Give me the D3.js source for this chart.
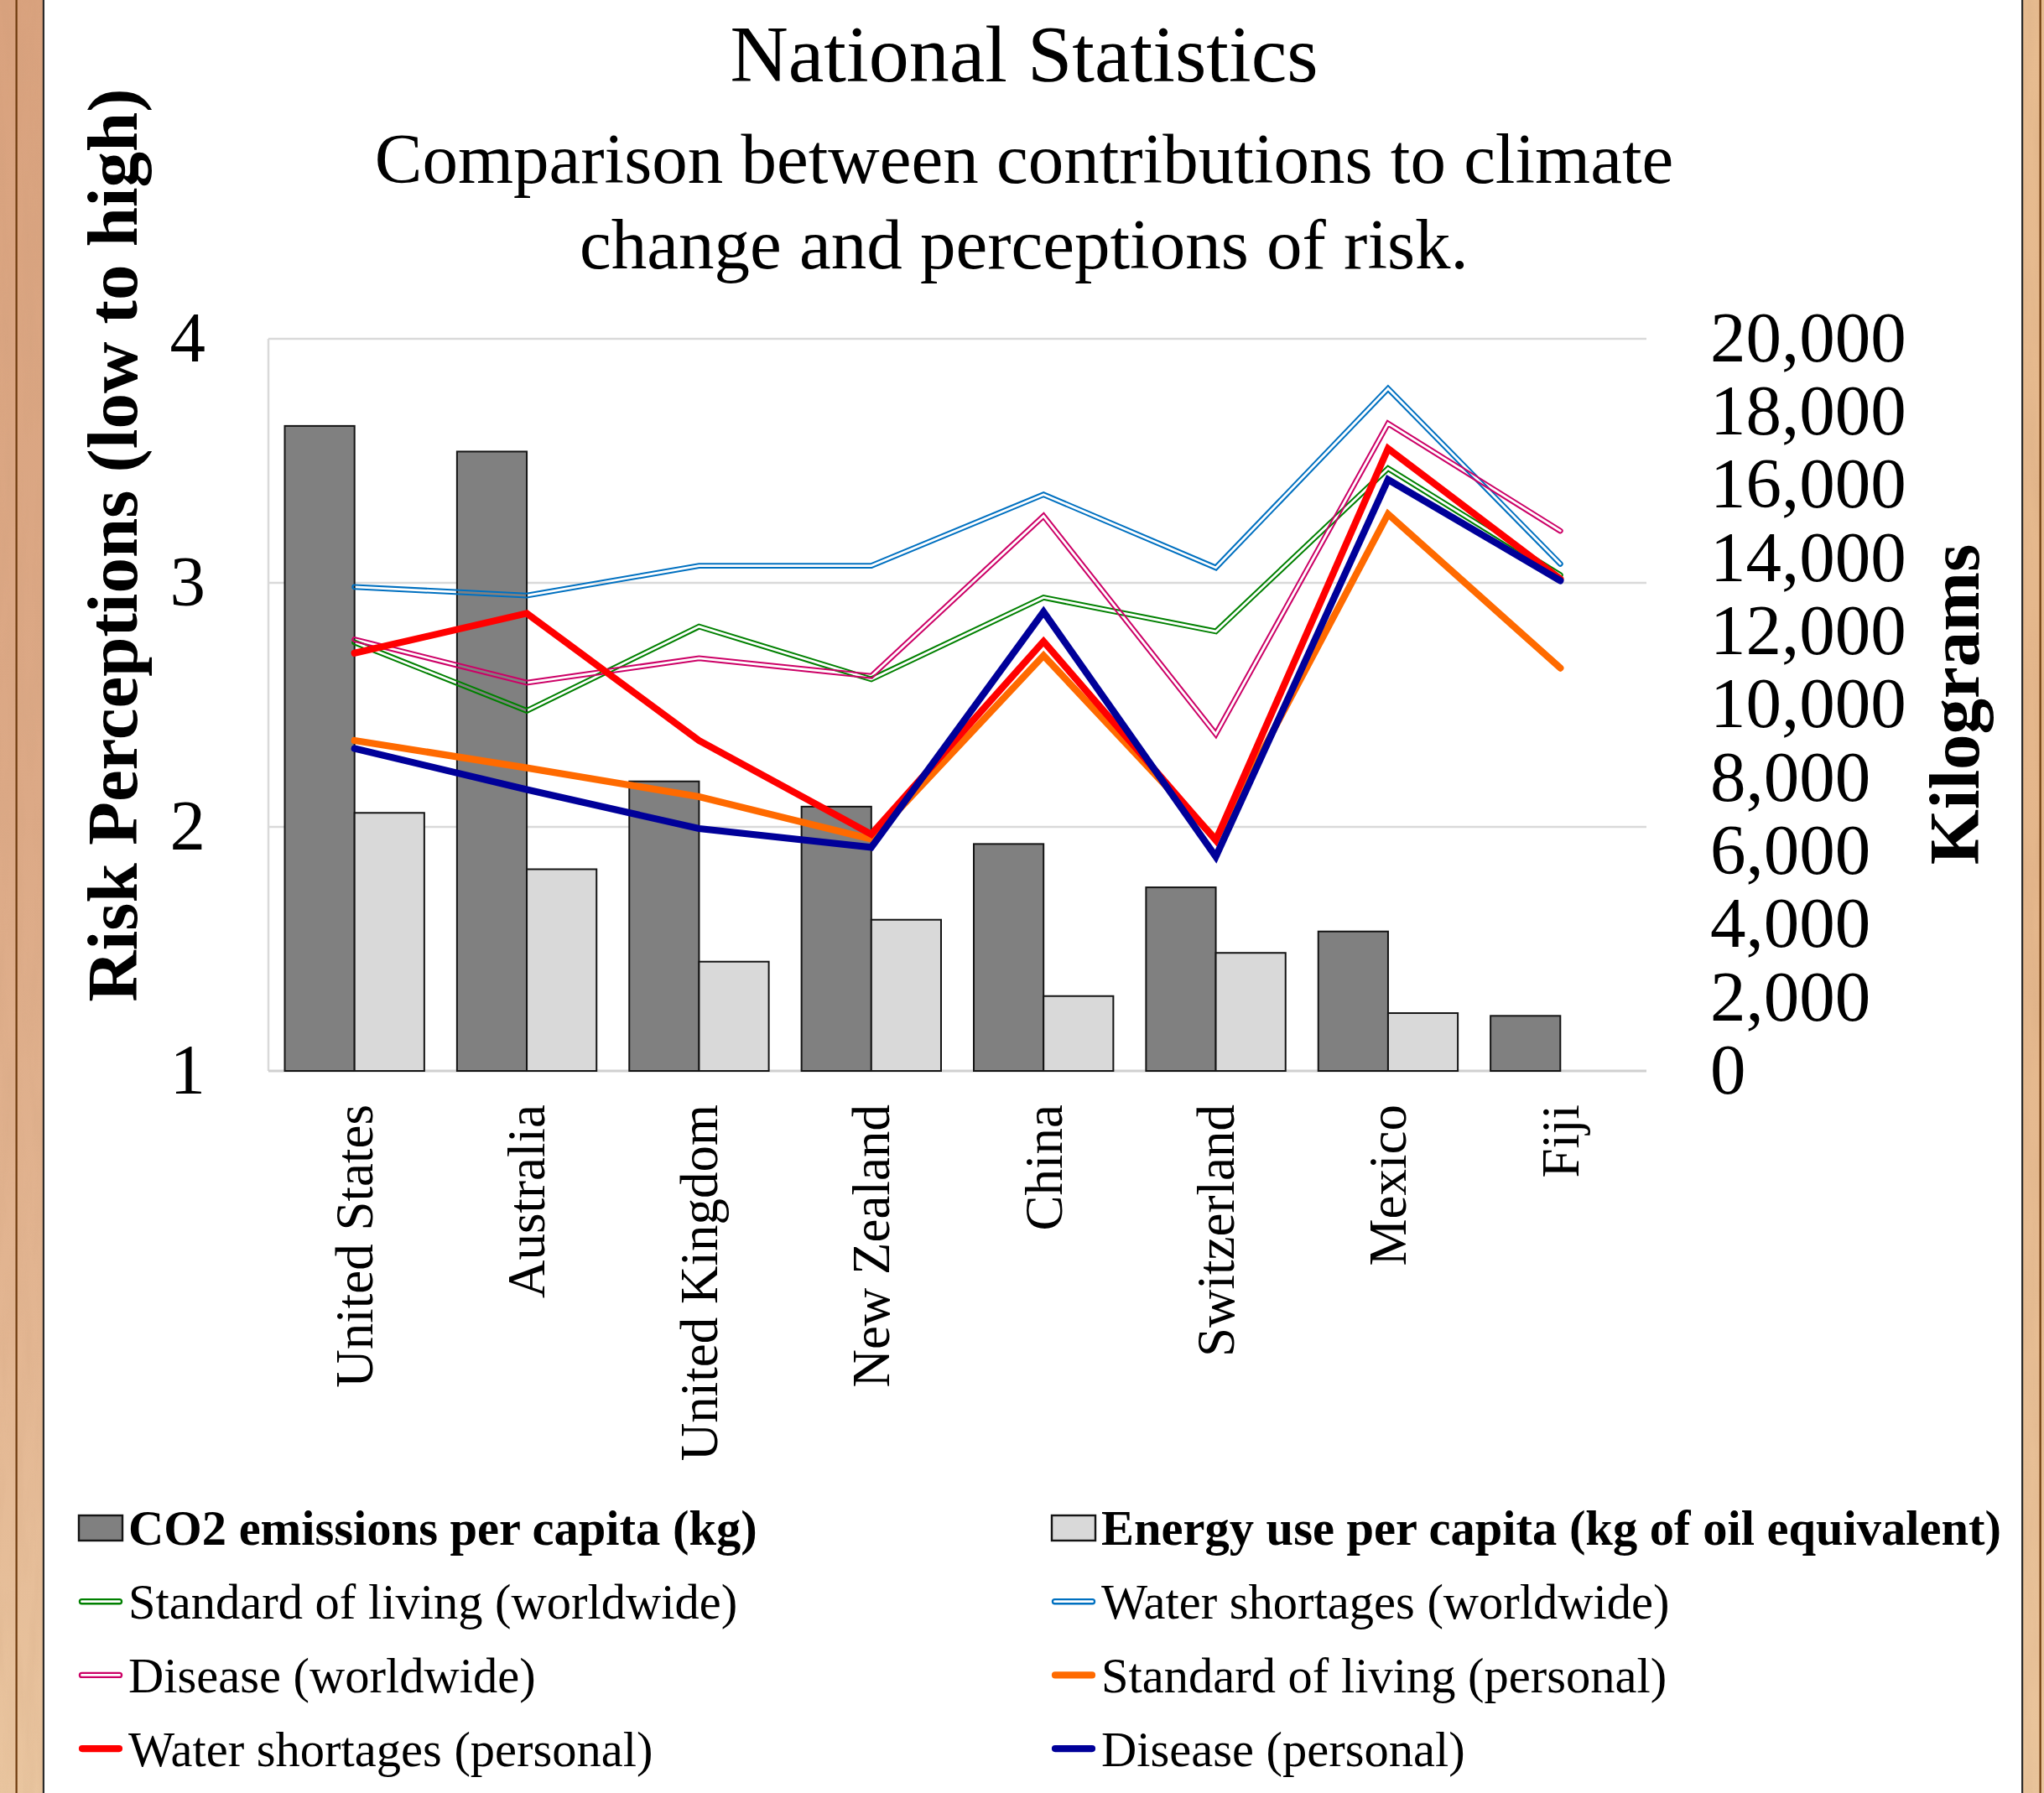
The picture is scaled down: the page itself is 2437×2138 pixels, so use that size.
<!DOCTYPE html>
<html>
<head>
<meta charset="utf-8">
<title>National Statistics</title>
<script src="https://cdn.jsdelivr.net/npm/d3@7"></script>
<style>
  html, body { margin: 0; padding: 0; background: #ffffff; }
  svg { display: block; }
</style>
</head>
<body>
<script>
// ---- Data -------------------------------------------------------------
const categories = ["United States", "Australia", "United Kingdom", "New Zealand",
                    "China", "Switzerland", "Mexico", "Fiji"];

// Bars, right axis (kilograms)
const co2PerCapita    = [17620, 16920, 7910, 7220, 6200, 5015, 3810, 1505];
const energyPerCapita = [7050, 5510, 2985, 4130, 2045, 3225, 1580, null];

// Lines, left axis (risk perception, 1 = low, 4 = high)
const stdLivingWorldwide      = [2.756, 2.476, 2.821, 2.605, 2.940, 2.801, 3.469, 3.032];
const waterShortagesWorldwide = [2.983, 2.948, 3.070, 3.070, 3.362, 3.062, 3.796, 3.078];
const diseaseWorldwide        = [2.768, 2.591, 2.691, 2.618, 3.274, 2.380, 3.653, 3.213];
const stdLivingPersonal       = [2.354, 2.242, 2.124, 1.950, 2.702, 1.950, 3.282, 2.651];
const waterShortagesPersonal  = [2.712, 2.875, 2.354, 1.970, 2.760, 1.945, 3.550, 3.016];
const diseasePersonal         = [2.321, 2.153, 1.993, 1.916, 2.881, 1.878, 3.423, 3.009];

const leftTicks  = [1, 2, 3, 4];
const rightTicks = [0, 2000, 4000, 6000, 8000, 10000, 12000, 14000, 16000, 18000, 20000];

const titleText    = "National Statistics";
const subtitleText = ["Comparison between contributions to climate",
                      "change and perceptions of risk."];
const leftAxisTitle  = "Risk Perceptions (low to high)";
const rightAxisTitle = "Kilograms";

// ---- Series definitions ----------------------------------------------
const barSeries = [
  { key: "co2",    name: "CO2 emissions per capita (kg)",                 values: co2PerCapita,    fill: "#808080" },
  { key: "energy", name: "Energy use per capita (kg of oil equivalent)",  values: energyPerCapita, fill: "#d9d9d9" }
];
const lineSeries = [
  { key: "slw", name: "Standard of living (worldwide)", values: stdLivingWorldwide,      color: "#008000", style: "double" },
  { key: "wsw", name: "Water shortages (worldwide)",    values: waterShortagesWorldwide, color: "#0070c0", style: "double" },
  { key: "dw",  name: "Disease (worldwide)",            values: diseaseWorldwide,        color: "#cc0066", style: "double" },
  { key: "slp", name: "Standard of living (personal)",  values: stdLivingPersonal,       color: "#ff6a00", style: "solid" },
  { key: "wsp", name: "Water shortages (personal)",     values: waterShortagesPersonal,  color: "#ff0000", style: "solid" },
  { key: "dp",  name: "Disease (personal)",             values: diseasePersonal,         color: "#000099", style: "solid" }
];

// ---- Layout ------------------------------------------------------------
const W = 2437, H = 2138;
const plot = { left: 320, right: 1963, top: 404, bottom: 1277 };
const FONT = "'Liberation Serif', 'Times New Roman', Times, serif";
const DOUBLE_OUTER = 6.8, DOUBLE_GAP = 2.8, SOLID_W = 8.2;

const svg = d3.select("body").append("svg")
  .attr("width", W).attr("height", H)
  .attr("viewBox", `0 0 ${W} ${H}`)
  .style("font-family", FONT);

svg.append("rect").attr("width", W).attr("height", H).attr("fill", "#ffffff");

const defs = svg.append("defs");

// ---- Wooden frame strips -----------------------------------------------
const woodLeft = defs.append("linearGradient").attr("id", "woodLeft")
  .attr("x1", 0).attr("y1", 0).attr("x2", 0).attr("y2", 1);
woodLeft.append("stop").attr("offset", "0%").attr("stop-color", "#d9a27e");
woodLeft.append("stop").attr("offset", "45%").attr("stop-color", "#dca986");
woodLeft.append("stop").attr("offset", "75%").attr("stop-color", "#e3b692");
woodLeft.append("stop").attr("offset", "100%").attr("stop-color", "#e9c59f");

const woodRight = defs.append("linearGradient").attr("id", "woodRight")
  .attr("x1", 0).attr("y1", 0).attr("x2", 0).attr("y2", 1);
woodRight.append("stop").attr("offset", "0%").attr("stop-color", "#e7bc90");
woodRight.append("stop").attr("offset", "50%").attr("stop-color", "#e4b68b");
woodRight.append("stop").attr("offset", "100%").attr("stop-color", "#eac59c");

const grain = defs.append("filter").attr("id", "grain")
  .attr("x", 0).attr("y", 0).attr("width", 1).attr("height", 1);
grain.append("feTurbulence").attr("type", "fractalNoise")
  .attr("baseFrequency", "0.07 0.008").attr("numOctaves", 3).attr("seed", 7).attr("result", "n");
grain.append("feColorMatrix").attr("in", "n").attr("type", "matrix")
  .attr("values", "0 0 0 0 0.55  0 0 0 0 0.32  0 0 0 0 0.18  0 0 0 0.8 -0.3");

function woodStrip(x0, width, gradId, brownX, edgeX) {
  const g = svg.append("g");
  g.append("rect").attr("x", x0).attr("y", 0).attr("width", width).attr("height", H)
    .attr("fill", `url(#${gradId})`);
  g.append("rect").attr("x", x0).attr("y", 0).attr("width", width).attr("height", H)
    .attr("fill", "#000").attr("filter", "url(#grain)").attr("opacity", 0.32);
  g.append("rect").attr("x", brownX).attr("y", 0).attr("width", 2.2).attr("height", H)
    .attr("fill", "#6e3b0e");
  g.append("rect").attr("x", edgeX).attr("y", 0).attr("width", 2.2).attr("height", H)
    .attr("fill", "#2b2b2b");
}
woodStrip(0, 52, "woodLeft", 18.5, 50.8);
woodStrip(2412, 25, "woodRight", 2431.5, 2410);

// ---- Scales ------------------------------------------------------------
const x = d3.scaleBand().domain(categories)
  .range([plot.left, plot.right]).paddingInner(0.19).paddingOuter(0.095);
const xSub = d3.scaleBand().domain(barSeries.map(s => s.key)).range([0, x.bandwidth()]);
const yLeft  = d3.scaleLinear().domain([1, 4]).range([plot.bottom, plot.top]);
const yRight = d3.scaleLinear().domain([0, 20000]).range([plot.bottom, plot.top]);

// ---- Gridlines & axis lines ----------------------------------------------
svg.append("g").selectAll("line").data(leftTicks.filter(t => t !== 1)).join("line")
  .attr("x1", plot.left).attr("x2", plot.right)
  .attr("y1", d => yLeft(d)).attr("y2", d => yLeft(d))
  .attr("stroke", "#d9d9d9").attr("stroke-width", 2.5);

svg.append("line")
  .attr("x1", plot.left).attr("x2", plot.left)
  .attr("y1", plot.top).attr("y2", plot.bottom)
  .attr("stroke", "#d9d9d9").attr("stroke-width", 2.5);

svg.append("line")
  .attr("x1", plot.left).attr("x2", plot.right)
  .attr("y1", yLeft(1)).attr("y2", yLeft(1))
  .attr("stroke", "#d0d0d0").attr("stroke-width", 3);

// ---- Bars --------------------------------------------------------------
const barData = [];
barSeries.forEach(s => s.values.forEach((v, i) => {
  if (v != null) barData.push({ key: s.key, cat: categories[i], value: v, fill: s.fill });
}));

svg.append("g").selectAll("rect").data(barData).join("rect")
  .attr("x", d => x(d.cat) + xSub(d.key))
  .attr("y", d => yRight(d.value))
  .attr("width", xSub.bandwidth())
  .attr("height", d => yRight(0) - yRight(d.value))
  .attr("fill", d => d.fill)
  .attr("stroke", "#141414").attr("stroke-width", 2);

// ---- Lines ---------------------------------------------------------------
const lineGen = d3.line()
  .x((d, i) => x(categories[i]) + x.bandwidth() / 2)
  .y(d => yLeft(d));

const linesG = svg.append("g");
lineSeries.forEach(s => {
  const d = lineGen(s.values);
  if (s.style === "double") {
    // a double rule: a wide stroke with a transparent core cut out by a mask
    const mask = defs.append("mask").attr("id", "core-" + s.key)
      .attr("maskUnits", "userSpaceOnUse")
      .attr("x", 0).attr("y", 0).attr("width", W).attr("height", H);
    mask.append("rect").attr("width", W).attr("height", H).attr("fill", "#fff");
    mask.append("path").attr("d", d).attr("fill", "none")
      .attr("stroke", "#000").attr("stroke-width", DOUBLE_GAP)
      .attr("stroke-linecap", "round").attr("stroke-linejoin", "miter");
    linesG.append("path").attr("d", d).attr("fill", "none")
      .attr("stroke", s.color).attr("stroke-width", DOUBLE_OUTER)
      .attr("stroke-linecap", "round").attr("stroke-linejoin", "miter")
      .attr("mask", `url(#core-${s.key})`);
  } else {
    linesG.append("path").attr("d", d).attr("fill", "none")
      .attr("stroke", s.color).attr("stroke-width", SOLID_W)
      .attr("stroke-linecap", "round").attr("stroke-linejoin", "miter")
      .attr("stroke-miterlimit", 6);
  }
});

// ---- Axes (tick labels) -------------------------------------------------
const leftAxis = svg.append("g").attr("transform", `translate(${plot.left},0)`)
  .call(d3.axisLeft(yLeft).tickValues(leftTicks).tickSize(0).tickPadding(75).tickFormat(d3.format("d")));
const rightAxis = svg.append("g").attr("transform", `translate(${plot.right},0)`)
  .call(d3.axisRight(yRight).tickValues(rightTicks).tickSize(0).tickPadding(76).tickFormat(d3.format(",")));
[leftAxis, rightAxis].forEach(a => {
  a.select(".domain").remove();
  a.attr("font-family", FONT).attr("font-size", 85);
  a.selectAll("text").attr("fill", "#000").attr("dy", "0.31em");
});

// Category labels, rotated
svg.append("g").selectAll("text").data(categories).join("text")
  .attr("transform", d => `translate(${x(d) + x.bandwidth() / 2},${plot.bottom + 40}) rotate(-90)`)
  .attr("text-anchor", "end")
  .attr("dy", "0.34em")
  .attr("font-size", 63)
  .attr("fill", "#000")
  .text(d => d);

// ---- Titles ----------------------------------------------------------------
const cx = 1221;
svg.append("text").attr("x", cx).attr("y", 97).attr("text-anchor", "middle")
  .attr("font-size", 96).attr("fill", "#000").text(titleText);
svg.append("g").selectAll("text").data(subtitleText).join("text")
  .attr("x", cx).attr("y", (d, i) => 218 + i * 102).attr("text-anchor", "middle")
  .attr("font-size", 85).attr("fill", "#000").text(d => d);

svg.append("text")
  .attr("transform", `translate(163,650) rotate(-90)`)
  .attr("text-anchor", "middle").attr("font-size", 85).attr("font-weight", "bold")
  .attr("fill", "#000").text(leftAxisTitle);
svg.append("text")
  .attr("transform", `translate(2359,840) rotate(-90)`)
  .attr("text-anchor", "middle").attr("font-size", 85).attr("font-weight", "bold")
  .attr("fill", "#000").text(rightAxisTitle);

// ---- Legend ------------------------------------------------------------------
const legendItems = [
  ...barSeries.map(s => ({ ...s, type: "bar" })),
  ...lineSeries.map(s => ({ ...s, type: "line" }))
];
const legendCols = [94, 1254];
const legendRow0 = 1822, legendRowStep = 87.7;
const legend = svg.append("g");
legendItems.forEach((item, i) => {
  const col = i % 2, row = Math.floor(i / 2);
  const sx = legendCols[col], cy = legendRow0 + row * legendRowStep;
  const g = legend.append("g");
  if (item.type === "bar") {
    g.append("rect").attr("x", sx).attr("y", cy - 15).attr("width", 52).attr("height", 30)
      .attr("fill", item.fill).attr("stroke", "#141414").attr("stroke-width", 2.4);
  } else if (item.style === "double") {
    g.append("line").attr("x1", sx + 3.5).attr("x2", sx + 48.5).attr("y1", cy).attr("y2", cy)
      .attr("stroke", item.color).attr("stroke-width", DOUBLE_OUTER + 0.6).attr("stroke-linecap", "round");
    g.append("line").attr("x1", sx + 3.5).attr("x2", sx + 48.5).attr("y1", cy).attr("y2", cy)
      .attr("stroke", "#fff").attr("stroke-width", DOUBLE_GAP).attr("stroke-linecap", "round");
  } else {
    g.append("line").attr("x1", sx + 4).attr("x2", sx + 48).attr("y1", cy).attr("y2", cy)
      .attr("stroke", item.color).attr("stroke-width", SOLID_W).attr("stroke-linecap", "round");
  }
  g.append("text").attr("x", sx + 59).attr("y", cy).attr("dy", "0.35em")
    .attr("font-size", 58.5).attr("font-weight", item.type === "bar" ? "bold" : "normal")
    .attr("fill", "#000").text(item.name);
});
</script>
</body>
</html>
